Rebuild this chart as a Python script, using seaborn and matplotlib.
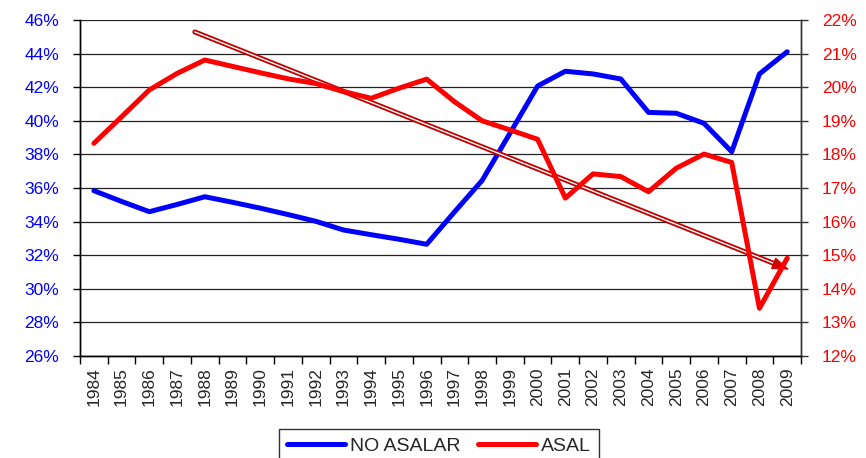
import pandas as pd
import seaborn as sns
import matplotlib.pyplot as plt
import matplotlib.patheffects as pe
from matplotlib.ticker import FixedLocator, FuncFormatter


# data (percent)
years = [str(y) for y in range(1984, 2010)]
no_asalar = [35.84, 35.20, 34.59, 35.02, 35.48, 35.15, 34.80, 34.42, 34.02, 33.50,
             33.22, 32.95, 32.65, 34.57, 36.45, 39.25, 42.07, 42.95, 42.79, 42.49,
             40.50, 40.45, 39.85, 38.16, 42.79, 44.11]
asal = [18.33, 19.12, 19.92, 20.41, 20.81, 20.62, 20.43, 20.25, 20.11, 19.87,
        19.67, 19.97, 20.24, 19.57, 19.00, 18.73, 18.45, 16.70, 17.42, 17.34,
        16.89, 17.59, 18.01, 17.76, 13.42, 14.91]

# trend arrow (category index, left-axis percent)
trend_start = (3.64, 45.29)
trend_end = (25.17, 31.08)

# plot esthetics
sns.set_style("white")
plt.rcParams["font.family"] = ["Liberation Sans", "DejaVu Sans"]
blue = "#0000ff"
red = "#ff0000"
dark_red = "#c00000"
font_size = 12.5

df = pd.DataFrame({"idx": range(len(years)), "Year": years,
                   "NO ASALAR": no_asalar, "ASAL": asal})

fig = plt.figure(figsize=(8.66, 4.58), dpi=100)
ax = fig.add_axes([0.0924, 0.2227, 0.8326, 0.7336])
ax2 = ax.twinx()

sns.lineplot(data=df, x="idx", y="NO ASALAR", ax=ax, color=blue, linewidth=3.6,
             label="NO ASALAR", legend=False, zorder=3)
sns.lineplot(data=df, x="idx", y="ASAL", ax=ax2, color=red, linewidth=3.6,
             label="ASAL", legend=False, zorder=3)

# left axis
ax.set_xlim(-0.5, len(years) - 0.5)
ax.set_ylim(26, 46)
ax.set_yticks(range(26, 47, 2))
ax.yaxis.set_major_formatter(FuncFormatter(lambda v, p: f"{v:.0f}%"))
ax.tick_params(axis="y", colors="black", labelcolor=blue, labelsize=font_size,
               direction="out", length=5, width=1, left=True, pad=10)
ax.grid(axis="y", color="#222222", linewidth=0.9)
ax.set_axisbelow(True)

# right axis
ax2.set_ylim(12, 22)
ax2.set_yticks(range(12, 23))
ax2.yaxis.set_major_formatter(FuncFormatter(lambda v, p: f"{v:.0f}%"))
ax2.tick_params(axis="y", colors="#333333", labelcolor=red, labelsize=font_size,
                direction="out", length=5, width=1, right=True, pad=10)

# categories: labels at centers, ticks at boundaries
ax.set_xticks(range(len(years)))
ax.set_xticklabels(years, rotation=90, fontsize=font_size)
ax.xaxis.set_minor_locator(FixedLocator([i - 0.5 for i in range(len(years) + 1)]))
ax.tick_params(axis="x", which="major", length=0, pad=8, bottom=True)
ax.tick_params(axis="x", which="minor", length=6, width=1, color="black",
               direction="out", bottom=True)

for a in (ax, ax2):
    a.set_xlabel("")
    a.set_ylabel("")
    a.spines["top"].set_visible(False)
    a.spines["left"].set_color("black")
    a.spines["bottom"].set_color("black")
    a.spines["right"].set_color("#333333")
    for s in a.spines.values():
        s.set_linewidth(1)

# double-line trend arrow
ax.plot([trend_start[0], trend_end[0] - 0.45], [trend_start[1], trend_end[1] + 0.3],
        color="white", linewidth=1.0, zorder=4,
        path_effects=[pe.Stroke(linewidth=3.6, foreground=dark_red), pe.Normal()])
ax.annotate("", xy=trend_end, xytext=(trend_end[0] - 0.7, trend_end[1] + 0.46),
            arrowprops=dict(arrowstyle="-|>,head_length=1.1,head_width=0.4",
                            color="#d00000", lw=0.8), zorder=5)

# legend
handles = ax.get_lines()[:1] + ax2.get_lines()[:1]
leg = fig.legend(handles, ["NO ASALAR", "ASAL"], loc="upper center",
                 bbox_to_anchor=(0.507, 0.063), ncol=2, frameon=True,
                 fancybox=False, edgecolor="black", fontsize=14,
                 handlelength=3.0, handletextpad=0.25, columnspacing=0.9,
                 borderpad=0.4, borderaxespad=0)
leg.get_frame().set_linewidth(1)

fig.savefig("out.png", dpi=100)
plt.close()
